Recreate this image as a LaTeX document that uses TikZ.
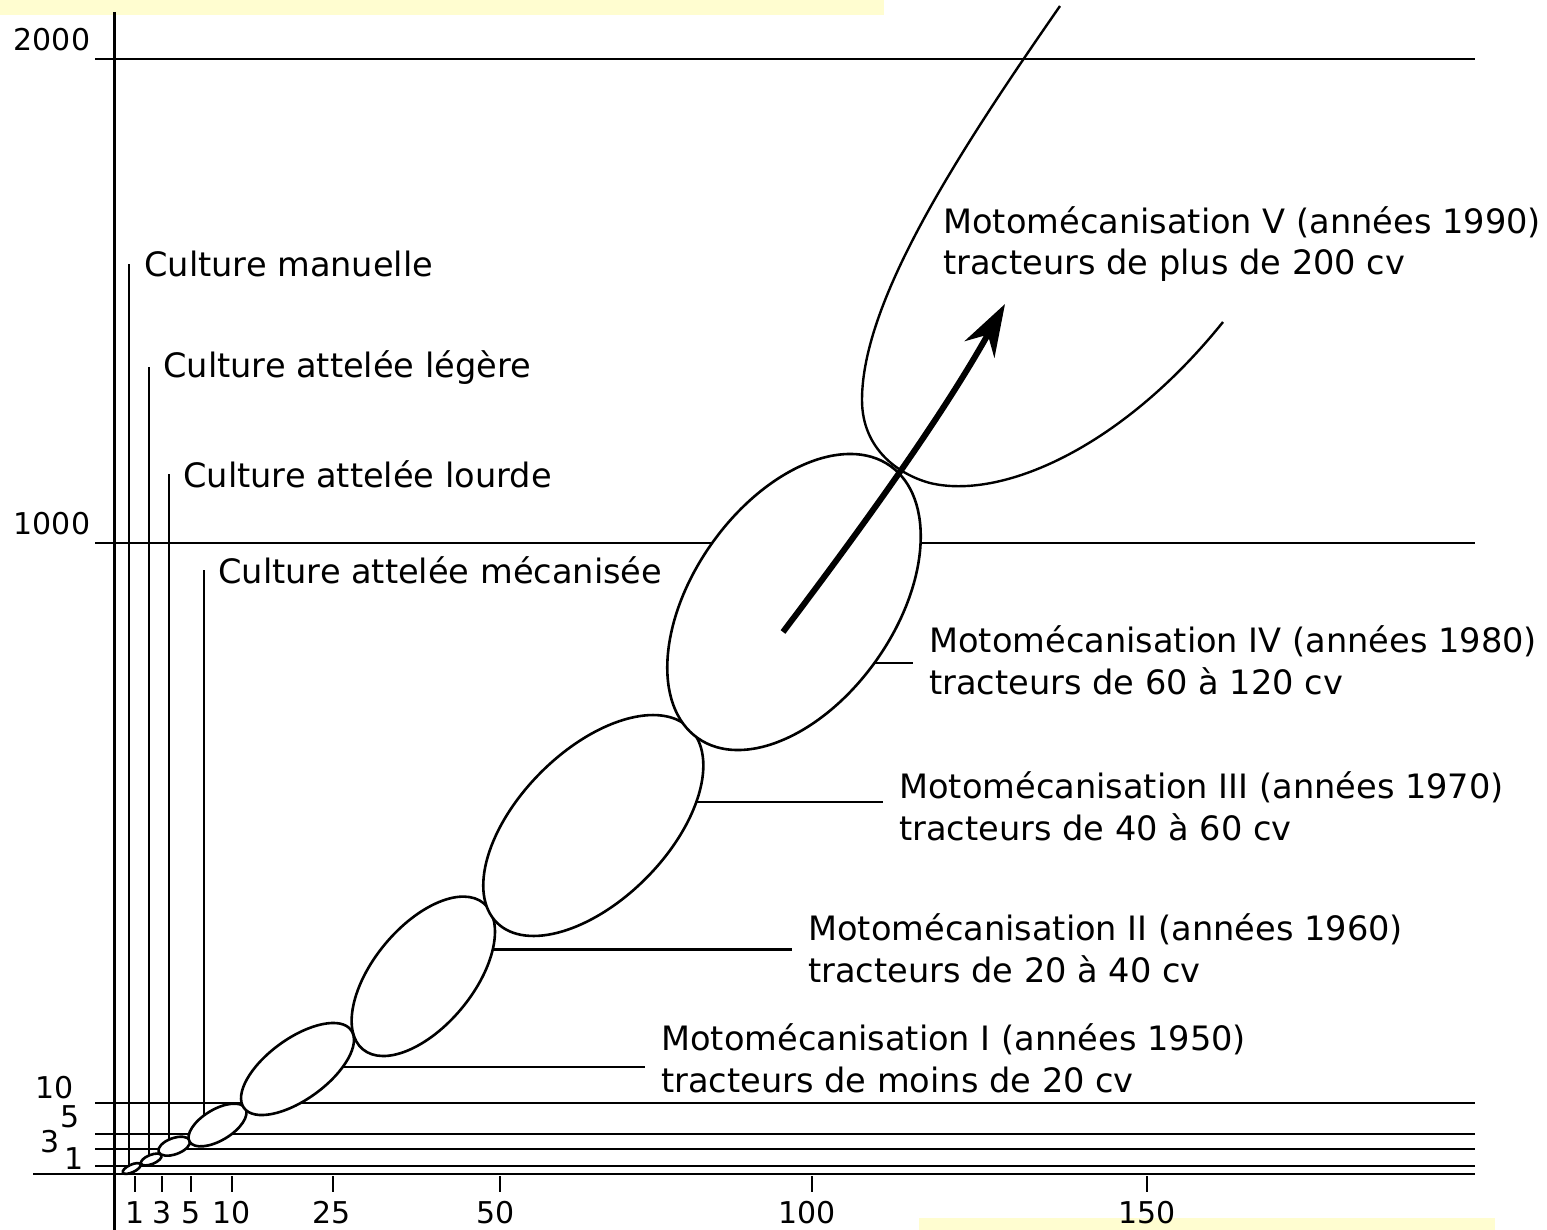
\documentclass[tikz,border=0pt]{standalone}
\usepackage{fontspec}
\setmainfont{DejaVu Sans}
\usetikzlibrary{arrows.meta}
\definecolor{paleyellow}{RGB}{255,253,208}

\tikzset{
	lbl/.style={font=\fontsize{16.8}{20.9}\selectfont, inner sep=0pt, align=left, anchor=base west},
	num/.style={font=\fontsize{15}{18}\selectfont, inner sep=0pt, anchor=base},
	grid/.style={line width=1.1pt},
	stem/.style={line width=1.2pt},
	lead/.style={line width=1.2pt, shorten >=8pt},
	ell/.style={draw, fill=white, line width=1.3pt},
	trend/.style={line width=3pt, -{Stealth[length=26pt, width=17pt]}}
}

\begin{document}
\begin{tikzpicture}[x=0.5pt,y=-0.5pt]
	\useasboundingbox (0,0) rectangle (1547,1230);

	% Draw highlight bands
	\fill[paleyellow] (0,0) rectangle (884,15);
	\fill[paleyellow] (919,1218) rectangle (1495,1230);

	% Draw axes and levels
	\draw[grid] (114.5,12) -- (114.5,1230);
	\draw[grid] (33,1174) -- (1475,1174);
	\draw[grid] (95,59) -- (1475,59) (95,543) -- (1475,543);
	\draw[grid] (95,1103) -- (1475,1103) (95,1134) -- (1475,1134) (95,1149) -- (1475,1149) (95,1166) -- (1475,1166);

	% Draw ticks
	\draw[grid] (134.7,1176) -- (134.7,1192) (161.7,1176) -- (161.7,1192) (190.7,1176) -- (190.7,1192) (232,1176) -- (232,1192);
	\draw[grid] (332.7,1176) -- (332.7,1192) (500,1176) -- (500,1192) (811.7,1176) -- (811.7,1192) (1147,1176) -- (1147,1192);

	% Draw axis numbers
	\node[num] (y2000) at (52,51) {2000};
	\node[num] (y1000) at (52,534) {1000};
	\node[num] (y10) at (55,1098) {10};
	\node[num] (y5) at (70,1127) {5};
	\node[num] (y3) at (50,1152) {3};
	\node[num] (y1) at (74,1169) {1};
	\node[num] (x1) at (134.7,1223) {1};
	\node[num] (x3) at (161.7,1223) {3};
	\node[num] (x5) at (190.7,1223) {5};
	\node[num] (x10) at (232,1223) {10};
	\node[num] (x25) at (332,1223) {25};
	\node[num] (x50) at (496,1223) {50};
	\node[num] (x100) at (807,1223) {100};
	\node[num] (x150) at (1147,1223) {150};

	% Draw labels (base = last line)
	\node[lbl] (manuelle) at (144,277) {Culture manuelle};
	\node[lbl] (legere) at (163,377) {Culture attelée légère};
	\node[lbl] (lourde) at (183,487) {Culture attelée lourde};
	\node[lbl] (mecanisee) at (218,583) {Culture attelée mécanisée};
	\node[lbl] (moto5) at (943,275) {Motomécanisation V (années 1990)\\tracteurs de plus de 200 cv};
	\node[lbl] (moto4) at (929,694) {Motomécanisation IV (années 1980)\\tracteurs de 60 à 120 cv};
	\node[lbl] (moto3) at (899,840) {Motomécanisation III (années 1970)\\tracteurs de 40 à 60 cv};
	\node[lbl] (moto2) at (808,982) {Motomécanisation II (années 1960)\\tracteurs de 20 à 40 cv};
	\node[lbl] (moto1) at (661,1092) {Motomécanisation I (années 1950)\\tracteurs de moins de 20 cv};

	% Draw stems and leaders
	\coordinate (b1) at (129,1168);
	\coordinate (b2) at (149,1159);
	\coordinate (b3) at (169,1146);
	\coordinate (b4) at (204,1125);
	\draw[stem] (b1) -- (b1 |- manuelle.west);
	\draw[stem] (b2) -- (b2 |- legere.west);
	\draw[stem] (b3) -- (b3 |- lourde.west);
	\draw[stem] (b4) -- (b4 |- mecanisee.west);
	\coordinate (m1) at (330,1066.7);
	\coordinate (m2) at (485,949.3);
	\coordinate (m3) at (690,801.7);
	\coordinate (m4) at (860,663);
	\draw[lead] (m1) -- (m1 -| moto1.west);
	\draw[lead] (m2) -- (m2 -| moto2.west);
	\draw[lead] (m3) -- (m3 -| moto3.west);
	\draw[lead] (m4) -- (m4 -| moto4.west);

	% Draw ellipses
	\draw[ell] (131.7,1168.5) ellipse [x radius=9.8, y radius=3.8, rotate=25];
	\draw[ell] (151.2,1159.5) ellipse [x radius=11, y radius=4.6, rotate=22];
	\draw[ell] (174.2,1146.2) ellipse [x radius=16.6, y radius=8.1, rotate=20];
	\draw[ell] (217.5,1125) ellipse [x radius=32.5, y radius=15.5, rotate=31];
	\draw[ell] (297.5,1069) ellipse [x radius=66.2, y radius=30.4, rotate=36];
	\draw[ell] (423.3,976.3) ellipse [x radius=94.8, y radius=50, rotate=50.4];
	\draw[ell] (593.3,825.5) ellipse [x radius=136.9, y radius=74.6, rotate=45.2];
	\draw[ell] (794,602) ellipse [x radius=166.7, y radius=100.9, rotate=54.7];

	% Draw outlook curve and trend
	\draw[stem] (1060,6) .. controls (960,150) and (862,300) .. (862,400) .. controls (862,450) and (900,475) .. (930,483) .. controls (1000,500) and (1120,450) .. (1223,322);
	\draw[trend] (783,632) .. controls (860,530) and (940,420) .. (1005,304);

\end{tikzpicture}
\end{document}
